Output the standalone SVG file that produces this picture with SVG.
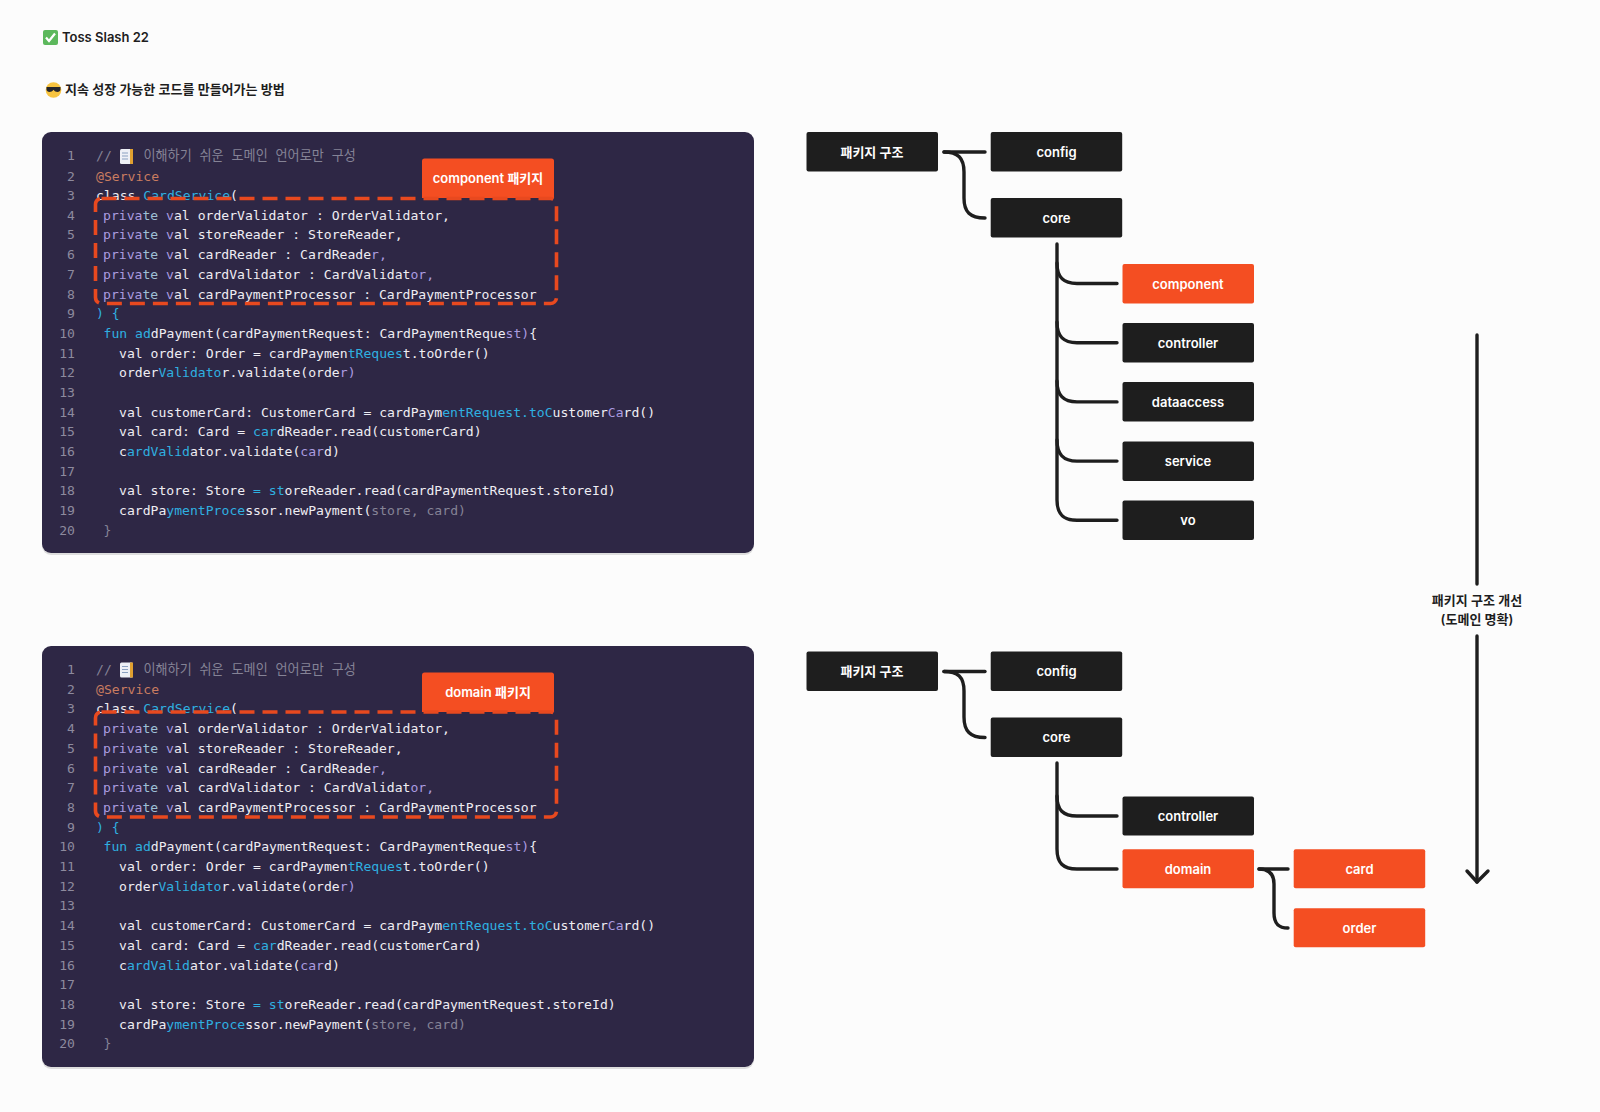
<svg xmlns="http://www.w3.org/2000/svg" width="1600" height="1112" viewBox="0 0 1600 1112">
<style>
.bg{fill:#fcfcfc}
.panel{fill:#2e2745}
.shadow{fill:#000;opacity:.12}
.code{font-family:"DejaVu Sans Mono","Noto Sans CJK KR",monospace;font-size:13.1px;fill:#eeedf3;white-space:pre;transform:translateY(.7px)}
.ln{fill:#8d8a9e;text-anchor:end}
.c{fill:#858396}
.o{fill:#c97c60}
.b{fill:#2fb0e0}
.p{fill:#ab9ce0}
.t{fill:#9ec0d6}
.box{fill:#1e1e1e}
.hot{fill:#f44e22}
.lbl{font-family:Inter,"Noto Sans CJK KR",sans-serif;font-size:13px;font-weight:600;fill:#fff;text-anchor:middle;dominant-baseline:central}
.head{font-family:Inter,"Noto Sans CJK KR",sans-serif;font-size:13px;font-weight:600;fill:#1e1e1e}
.note{font-family:Inter,"Noto Sans CJK KR",sans-serif;font-size:13px;font-weight:600;fill:#1e1e1e;text-anchor:middle}
.wire{fill:none;stroke:#1e1e1e;stroke-width:3.4;stroke-linecap:round;stroke-linejoin:round}
.dash{fill:none;stroke:#e8491f;stroke-width:3.6;stroke-dasharray:15 8;stroke-linecap:butt}
</style>
<rect class="bg" width="1600" height="1112"/>

<g id="heading">
<rect x="43" y="30" width="15" height="15" rx="2" fill="#5cb85c"/>
<path d="M46 37.500l3 3.500 6-7.500" fill="none" stroke="#fff" stroke-width="2.200"/>
<text class="head" x="62" y="42">Toss Slash 22</text>
<circle cx="53.500" cy="90" r="7.800" fill="#f8c440"/>
<path d="M46.500 87h14v2.500c0 1.500-1.500 2.500-3 2.500s-3-1-4-2.300c-1 1.300-2.500 2.300-4 2.300s-3-1-3-2.500z" fill="#26262c"/>
<text class="head" x="65" y="94">지속 성장 가능한 코드를 만들어가는 방법</text>
</g>

<g id="code-top">
<rect class="shadow" x="42" y="134" width="712" height="421" rx="9"/>
<rect class="panel" x="42" y="132" width="712" height="421" rx="9"/>
<text class="code ln" x="75" y="159.500">1</text><text class="code c" x="96" y="159.500">//</text>
<rect x="120" y="149" width="13" height="15" rx="1.500" fill="#eef0f6"/><rect x="130" y="149" width="3" height="15" fill="#e0a030"/><path d="M122 153h6M122 156h6M122 159h6" stroke="#8aa0c0" stroke-width="1"/>
<text class="code c" x="143.500" y="159.500">이해하기 쉬운 도메인 언어로만 구성</text>
<text class="code ln" x="75" y="180">2</text><text class="code o" x="96" y="180">@Service</text>
<text class="code ln" x="75" y="199">3</text><text class="code" x="96" y="199">class <tspan class="b">CardService</tspan>(</text>
<text class="code ln" x="75" y="219">4</text><text class="code" x="103" y="219"><tspan class="p">priva</tspan><tspan class="t">te</tspan> <tspan class="p">v</tspan>al orderValidator : OrderValidator,</text>
<text class="code ln" x="75" y="238.500">5</text><text class="code" x="103" y="238.500"><tspan class="p">priva</tspan><tspan class="t">te</tspan> <tspan class="p">v</tspan>al storeReader : StoreReader,</text>
<text class="code ln" x="75" y="258.500">6</text><text class="code" x="103" y="258.500"><tspan class="p">priva</tspan><tspan class="t">te</tspan> <tspan class="p">v</tspan>al cardReader : CardReade<tspan class="p">r,</tspan></text>
<text class="code ln" x="75" y="278">7</text><text class="code" x="103" y="278"><tspan class="p">priva</tspan><tspan class="t">te</tspan> <tspan class="p">v</tspan>al cardValidator : CardValidat<tspan class="p">or,</tspan></text>
<text class="code ln" x="75" y="298">8</text><text class="code" x="103" y="298"><tspan class="p">priva</tspan><tspan class="t">te</tspan> <tspan class="p">v</tspan>al cardPaymentProcessor : CardPaymentProcessor</text>
<text class="code ln" x="75" y="317.500">9</text><text class="code b" x="96" y="317.500">) {</text>
<text class="code ln" x="75" y="337">10</text><text class="code" x="103.500" y="337"><tspan class="b">fun ad</tspan>dPayment(cardPaymentRequest: CardPaymentReque<tspan class="p">st)</tspan>{</text>
<text class="code ln" x="75" y="357">11</text><text class="code" x="119" y="357">val order: Order = cardPaymen<tspan class="b">tReques</tspan>t.toOrder()</text>
<text class="code ln" x="75" y="376.500">12</text><text class="code" x="119" y="376.500">order<tspan class="b">Validato</tspan>r.validate(orde<tspan class="p">r)</tspan></text>
<text class="code ln" x="75" y="396">13</text>
<text class="code ln" x="75" y="416">14</text><text class="code" x="119" y="416">val customerCard: CustomerCard = cardPaym<tspan class="b">entRequest.toC</tspan>ustomer<tspan class="p">Ca</tspan>rd()</text>
<text class="code ln" x="75" y="435.500">15</text><text class="code" x="119" y="435.500">val card: Card = <tspan class="b">car</tspan>dReader.read(customerCard)</text>
<text class="code ln" x="75" y="455.500">16</text><text class="code" x="119" y="455.500">c<tspan class="b">ardValid</tspan>ator.validate(<tspan class="p">car</tspan>d)</text>
<text class="code ln" x="75" y="475">17</text>
<text class="code ln" x="75" y="494.500">18</text><text class="code" x="119" y="494.500">val store: Store <tspan class="b">= st</tspan>oreReader.read(cardPaymentRequest.storeId)</text>
<text class="code ln" x="75" y="514.500">19</text><text class="code" x="119" y="514.500">cardPa<tspan class="b">ymentProce</tspan>ssor.newPayment(<tspan class="c">store, card)</tspan></text>
<text class="code ln" x="75" y="534">20</text><text class="code c" x="103.500" y="534">}</text>
</g>
<g id="callout-top">
<path class="hot" d="M422 198V161q0-2.500 2.500-2.500h127q2.500 0 2.500 2.500V198z"/>
<text class="lbl" x="488" y="177.500">component 패키지</text>
<rect class="dash" x="95.500" y="198.500" width="461" height="105" rx="6"/>
</g>

<g id="code-bottom">
<rect class="shadow" x="42" y="648" width="712" height="421" rx="9"/>
<rect class="panel" x="42" y="646" width="712" height="421" rx="9"/>
<text class="code ln" x="75" y="673">1</text><text class="code c" x="96" y="673">//</text>
<rect x="120" y="662.500" width="13" height="15" rx="1.500" fill="#eef0f6"/><rect x="130" y="662.500" width="3" height="15" fill="#e0a030"/><path d="M122 666.500h6M122 669.500h6M122 672.500h6" stroke="#8aa0c0" stroke-width="1"/>
<text class="code c" x="143.500" y="673">이해하기 쉬운 도메인 언어로만 구성</text>
<text class="code ln" x="75" y="693.500">2</text><text class="code o" x="96" y="693.500">@Service</text>
<text class="code ln" x="75" y="712.500">3</text><text class="code" x="96" y="712.500">class <tspan class="b">CardService</tspan>(</text>
<text class="code ln" x="75" y="732.500">4</text><text class="code" x="103" y="732.500"><tspan class="p">priva</tspan><tspan class="t">te</tspan> <tspan class="p">v</tspan>al orderValidator : OrderValidator,</text>
<text class="code ln" x="75" y="752">5</text><text class="code" x="103" y="752"><tspan class="p">priva</tspan><tspan class="t">te</tspan> <tspan class="p">v</tspan>al storeReader : StoreReader,</text>
<text class="code ln" x="75" y="772">6</text><text class="code" x="103" y="772"><tspan class="p">priva</tspan><tspan class="t">te</tspan> <tspan class="p">v</tspan>al cardReader : CardReade<tspan class="p">r,</tspan></text>
<text class="code ln" x="75" y="791.500">7</text><text class="code" x="103" y="791.500"><tspan class="p">priva</tspan><tspan class="t">te</tspan> <tspan class="p">v</tspan>al cardValidator : CardValidat<tspan class="p">or,</tspan></text>
<text class="code ln" x="75" y="811.500">8</text><text class="code" x="103" y="811.500"><tspan class="p">priva</tspan><tspan class="t">te</tspan> <tspan class="p">v</tspan>al cardPaymentProcessor : CardPaymentProcessor</text>
<text class="code ln" x="75" y="831">9</text><text class="code b" x="96" y="831">) {</text>
<text class="code ln" x="75" y="850.500">10</text><text class="code" x="103.500" y="850.500"><tspan class="b">fun ad</tspan>dPayment(cardPaymentRequest: CardPaymentReque<tspan class="p">st)</tspan>{</text>
<text class="code ln" x="75" y="870.500">11</text><text class="code" x="119" y="870.500">val order: Order = cardPaymen<tspan class="b">tReques</tspan>t.toOrder()</text>
<text class="code ln" x="75" y="890">12</text><text class="code" x="119" y="890">order<tspan class="b">Validato</tspan>r.validate(orde<tspan class="p">r)</tspan></text>
<text class="code ln" x="75" y="909.500">13</text>
<text class="code ln" x="75" y="929.500">14</text><text class="code" x="119" y="929.500">val customerCard: CustomerCard = cardPaym<tspan class="b">entRequest.toC</tspan>ustomer<tspan class="p">Ca</tspan>rd()</text>
<text class="code ln" x="75" y="949">15</text><text class="code" x="119" y="949">val card: Card = <tspan class="b">car</tspan>dReader.read(customerCard)</text>
<text class="code ln" x="75" y="969">16</text><text class="code" x="119" y="969">c<tspan class="b">ardValid</tspan>ator.validate(<tspan class="p">car</tspan>d)</text>
<text class="code ln" x="75" y="988.500">17</text>
<text class="code ln" x="75" y="1008">18</text><text class="code" x="119" y="1008">val store: Store <tspan class="b">= st</tspan>oreReader.read(cardPaymentRequest.storeId)</text>
<text class="code ln" x="75" y="1028">19</text><text class="code" x="119" y="1028">cardPa<tspan class="b">ymentProce</tspan>ssor.newPayment(<tspan class="c">store, card)</tspan></text>
<text class="code ln" x="75" y="1047.500">20</text><text class="code c" x="103.500" y="1047.500">}</text>
</g>
<g id="callout-bottom">
<path class="hot" d="M422 712V675q0-2.500 2.500-2.500h127q2.500 0 2.500 2.500V712z"/>
<text class="lbl" x="488" y="691.500">domain 패키지</text>
<rect class="dash" x="95.500" y="712" width="461" height="105" rx="6"/>
</g>

<g id="connectors">
<path class="wire" d="M944 152H985"/>
<path class="wire" d="M944 152C958 152 964 158 964 172V198C964 212 970 218 985 218"/>
<path class="wire" d="M1057 244V500C1057 514 1063 520.300 1077 520.300H1117"/>
<path class="wire" d="M1057 263C1057 277 1063 283.500 1077 283.500H1117"/>
<path class="wire" d="M1057 322C1057 336 1063 342.700 1077 342.700H1117"/>
<path class="wire" d="M1057 381C1057 395 1063 401.900 1077 401.900H1117"/>
<path class="wire" d="M1057 440C1057 454 1063 461.100 1077 461.100H1117"/>
<path class="wire" d="M944 671.500H985"/>
<path class="wire" d="M944 671.500C958 671.500 964 677 964 691V717C964 731 970 737.500 985 737.500"/>
<path class="wire" d="M1057 763V849C1057 863 1063 869 1077 869H1117"/>
<path class="wire" d="M1057 796C1057 810 1063 816 1077 816H1117"/>
<path class="wire" d="M1259 869H1288"/>
<path class="wire" d="M1259 869C1268 869 1274 873 1274 884V913C1274 924 1279 928 1288 928"/>
<path class="wire" d="M1477 335V584"/>
<path class="wire" d="M1477 636V882"/>
<path class="wire" d="M1467 871L1477 882L1488 871"/>
</g>

<g id="n-root1"><rect class="box" x="806.500" y="132" width="131.500" height="39.500" rx="2"/><text class="lbl" x="872" y="151.500">패키지 구조</text></g>
<g id="n-config1"><rect class="box" x="990.700" y="132" width="131.500" height="39.500" rx="2"/><text class="lbl" x="1056.500" y="151.500">config</text></g>
<g id="n-core1"><rect class="box" x="990.700" y="198" width="131.500" height="39.500" rx="2"/><text class="lbl" x="1056.500" y="217.500">core</text></g>
<g id="n-component"><rect class="hot" x="1122.500" y="264" width="131.500" height="39.500" rx="2"/><text class="lbl" x="1188" y="283.500">component</text></g>
<g id="n-controller1"><rect class="box" x="1122.500" y="323" width="131.500" height="39.500" rx="2"/><text class="lbl" x="1188" y="342.500">controller</text></g>
<g id="n-dataaccess"><rect class="box" x="1122.500" y="382" width="131.500" height="39.500" rx="2"/><text class="lbl" x="1188" y="401.500">dataaccess</text></g>
<g id="n-service"><rect class="box" x="1122.500" y="441.500" width="131.500" height="39.500" rx="2"/><text class="lbl" x="1188" y="461">service</text></g>
<g id="n-vo"><rect class="box" x="1122.500" y="500.500" width="131.500" height="39.500" rx="2"/><text class="lbl" x="1188" y="520">vo</text></g>

<g id="n-root2"><rect class="box" x="806.500" y="651.500" width="131.500" height="39.500" rx="2"/><text class="lbl" x="872" y="670.500">패키지 구조</text></g>
<g id="n-config2"><rect class="box" x="990.700" y="651.500" width="131.500" height="39.500" rx="2"/><text class="lbl" x="1056.500" y="671">config</text></g>
<g id="n-core2"><rect class="box" x="990.700" y="717.500" width="131.500" height="39.500" rx="2"/><text class="lbl" x="1056.500" y="737">core</text></g>
<g id="n-controller2"><rect class="box" x="1122.500" y="796.500" width="131.500" height="39" rx="2"/><text class="lbl" x="1188" y="816">controller</text></g>
<g id="n-domain"><rect class="hot" x="1122.500" y="849.300" width="131.500" height="39" rx="2"/><text class="lbl" x="1188" y="868.800">domain</text></g>
<g id="n-card"><rect class="hot" x="1293.700" y="849.300" width="131.500" height="39" rx="2"/><text class="lbl" x="1359.500" y="868.800">card</text></g>
<g id="n-order"><rect class="hot" x="1293.700" y="908.300" width="131.500" height="39" rx="2"/><text class="lbl" x="1359.500" y="927.800">order</text></g>

<g id="note">
<text class="note" x="1477" y="604.500">패키지 구조 개선</text>
<text class="note" x="1477" y="624">(도메인 명확)</text>
</g>
</svg>
